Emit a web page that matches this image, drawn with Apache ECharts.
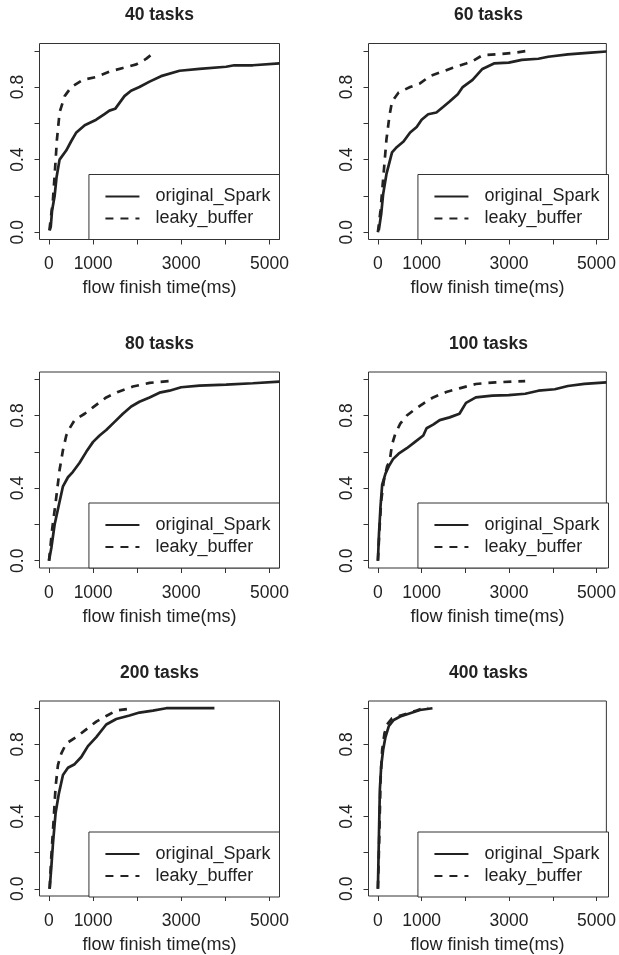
<!DOCTYPE html>
<html>
<head>
<meta charset="utf-8">
<script src="https://cdn.jsdelivr.net/npm/echarts@6/dist/echarts.min.js"></script>
<style>
  html, body { margin: 0; padding: 0; background: #fff; }
  #chart { width: 619px; height: 955px; }
</style>
</head>
<body>
<div id="chart"></div>
<script>
// panel titles
const titles = ['40 tasks', '60 tasks', '80 tasks', '100 tasks', '200 tasks', '400 tasks'];
const seriesNames = ['original_Spark', 'leaky_buffer'];

// tick values
const xTicks = [0, 1000, 2000, 3000, 4000, 5000];
const xLabels = [0, 1000, 3000, 5000];
const yTicks = [0, 0.2, 0.4, 0.6, 0.8, 1.0];
const yLabels = [0, 0.4, 0.8];

// CDF points [flow finish time (ms), fraction]
const spark40 = [[15, 0.01], [40, 0.03], [70, 0.12], [128, 0.2], [170, 0.3], [240, 0.4], [390, 0.45], [500, 0.5], [620, 0.55], [810, 0.59], [1070, 0.62], [1250, 0.65], [1370, 0.67], [1500, 0.68], [1710, 0.75], [1860, 0.78], [2050, 0.8], [2280, 0.83], [2540, 0.86], [2960, 0.89], [3410, 0.9], [4015, 0.912], [4200, 0.92], [4620, 0.92], [5225, 0.93]];
const leaky40 = [[10, 0.01], [40, 0.02], [90, 0.18], [130, 0.32], [180, 0.51], [240, 0.66], [355, 0.75], [505, 0.8], [770, 0.84], [1070, 0.855], [1370, 0.885], [1675, 0.905], [1980, 0.925], [2200, 0.955], [2355, 0.985]];

const spark60 = [[20, 0.01], [75, 0.1], [120, 0.21], [195, 0.32], [323, 0.44], [436, 0.47], [586, 0.5], [737, 0.55], [887, 0.58], [1000, 0.62], [1150, 0.65], [1338, 0.66], [1490, 0.69], [1640, 0.72], [1827, 0.76], [1940, 0.8], [2165, 0.84], [2390, 0.9], [2654, 0.93], [2992, 0.935], [3290, 0.95], [3670, 0.956], [3895, 0.967], [4345, 0.98], [4872, 0.99], [5225, 0.996]];
const leaky60 = [[0, 0], [60, 0.12], [98, 0.23], [150, 0.38], [195, 0.51], [263, 0.64], [323, 0.72], [474, 0.77], [737, 0.8], [962, 0.82], [1188, 0.86], [1413, 0.88], [1714, 0.906], [2015, 0.93], [2165, 0.943], [2390, 0.975], [2842, 0.983], [3143, 0.99], [3444, 1.0]];

const spark80 = [[0, 0], [53, 0.07], [128, 0.2], [226, 0.31], [317, 0.41], [430, 0.46], [543, 0.49], [694, 0.54], [845, 0.6], [1000, 0.655], [1147, 0.69], [1298, 0.72], [1487, 0.765], [1675, 0.81], [1864, 0.85], [2050, 0.876], [2280, 0.9], [2505, 0.926], [2730, 0.937], [2996, 0.956], [3410, 0.965], [4015, 0.97], [4620, 0.978], [5225, 0.987]];
const leaky80 = [[0, 0], [75, 0.18], [150, 0.32], [240, 0.5], [317, 0.61], [392, 0.69], [468, 0.73], [581, 0.775], [808, 0.81], [996, 0.845], [1298, 0.9], [1562, 0.93], [1902, 0.96], [2280, 0.98], [2730, 0.99]];

const spark100 = [[0, 0], [25, 0.15], [60, 0.3], [98, 0.42], [173, 0.48], [248, 0.52], [346, 0.56], [474, 0.59], [662, 0.62], [850, 0.655], [1038, 0.69], [1113, 0.73], [1263, 0.75], [1414, 0.775], [1640, 0.79], [1865, 0.81], [2015, 0.87], [2240, 0.9], [2617, 0.91], [2992, 0.913], [3368, 0.92], [3670, 0.937], [4045, 0.945], [4345, 0.963], [4722, 0.975], [5225, 0.983]];
const leaky100 = [[0, 0], [38, 0.18], [75, 0.33], [135, 0.44], [210, 0.52], [270, 0.55], [323, 0.64], [398, 0.7], [511, 0.755], [662, 0.8], [850, 0.835], [1038, 0.866], [1263, 0.9], [1564, 0.93], [1865, 0.95], [2240, 0.974], [2690, 0.983], [3368, 0.99]];

const spark200 = [[15, 0], [53, 0.12], [90, 0.25], [150, 0.42], [226, 0.53], [317, 0.63], [430, 0.67], [581, 0.69], [732, 0.73], [808, 0.76], [883, 0.79], [1072, 0.84], [1298, 0.91], [1525, 0.94], [1826, 0.96], [2050, 0.976], [2355, 0.987], [2656, 1.0], [3750, 1.0]];
const leaky200 = [[15, 0], [53, 0.18], [105, 0.38], [150, 0.565], [203, 0.685], [280, 0.75], [392, 0.805], [619, 0.84], [845, 0.883], [1072, 0.926], [1298, 0.957], [1525, 0.987], [1902, 1.0]];

const spark400 = [[0, 0], [22, 0.27], [45, 0.55], [75, 0.68], [120, 0.77], [173, 0.84], [248, 0.9], [361, 0.935], [511, 0.954], [737, 0.972], [962, 0.99], [1248, 1.0]];
const leaky400 = [[0, 0], [30, 0.27], [60, 0.6], [98, 0.77], [150, 0.86], [210, 0.91], [323, 0.944], [474, 0.957], [662, 0.97], [887, 0.987], [1038, 1.0], [1150, 1.0]];

const sparkData = [spark40, spark60, spark80, spark100, spark200, spark400];
const leakyData = [leaky40, leaky60, leaky80, leaky100, leaky200, leaky400];

// layout of the six plot boxes (px)
const W = 619, H = 955;
const boxLeft = [39.5, 368.5];
const boxTop = [43.5, 372, 701];
const boxW = 240, boxH = 196;
const font = '"Liberation Sans", Arial, Helvetica, sans-serif';
const ink = '#222';

const grids = [], xAxes = [], yAxes = [], series = [], legends = [], graphics = [];

titles.forEach((t, i) => {
  const col = i % 2, row = Math.floor(i / 2);
  const left = boxLeft[col], top = boxTop[row];
  grids.push({
    left: left, top: top, width: boxW, height: boxH,
    show: true, borderColor: '#333', borderWidth: 1, backgroundColor: 'transparent'
  });
  xAxes.push({
    type: 'value', gridIndex: i, min: -215, max: 5225,
    splitLine: { show: false },
    axisLine: { show: false, onZero: false },
    axisTick: { show: true, inside: false, length: 5, lineStyle: { color: '#333' }, customValues: xTicks },
    axisLabel: { customValues: xLabels, color: ink, fontSize: 17.5, fontFamily: font, margin: 16, formatter: v => String(v) },
    name: 'flow finish time(ms)', nameLocation: 'middle', nameGap: 40,
    nameTextStyle: { color: ink, fontSize: 18, fontFamily: font }
  });
  yAxes.push({
    type: 'value', gridIndex: i, min: -0.04, max: 1.04,
    splitLine: { show: false },
    axisLine: { show: false, onZero: false },
    axisTick: { show: true, inside: false, length: 5, lineStyle: { color: '#333' }, customValues: yTicks },
    axisLabel: {
      customValues: yLabels, rotate: 90, color: ink, fontSize: 17.5, fontFamily: font, margin: 12,
      formatter: v => v.toFixed(1)
    }
  });
  series.push({
    name: seriesNames[0], type: 'line', xAxisIndex: i, yAxisIndex: i,
    data: sparkData[i], symbol: 'none', silent: true,
    lineStyle: { color: ink, width: 2.7 }, itemStyle: { color: ink }
  });
  series.push({
    name: seriesNames[1], type: 'line', xAxisIndex: i, yAxisIndex: i,
    data: leakyData[i], symbol: 'none', silent: true,
    lineStyle: { color: ink, width: 2.7, type: [8, 7] }, itemStyle: { color: ink }
  });
  legends.push({
    data: seriesNames, orient: 'vertical', align: 'left',
    right: W - (left + boxW), bottom: H - (top + boxH),
    borderColor: '#333', borderWidth: 1, borderRadius: 0, backgroundColor: '#fff',
    padding: [13, 9, 12, 15.5],
    itemWidth: 34, itemHeight: 14, itemGap: 4, selectedMode: false,
    itemStyle: { opacity: 0 },
    textStyle: { color: ink, fontSize: 18, fontFamily: font, lineHeight: 18, padding: [0, 0, 0, 11] }
  });
  graphics.push({
    type: 'text', x: left + boxW / 2, y: top - 28,
    style: { text: t, fill: ink, font: 'bold 17.5px ' + font, textAlign: 'center', textVerticalAlign: 'middle' }
  });
});

const chart = echarts.init(document.getElementById('chart'));
chart.setOption({
  animation: false,
  backgroundColor: '#fff',
  grid: grids,
  xAxis: xAxes,
  yAxis: yAxes,
  legend: legends,
  series: series,
  graphic: graphics
});
</script>
</body>
</html>
